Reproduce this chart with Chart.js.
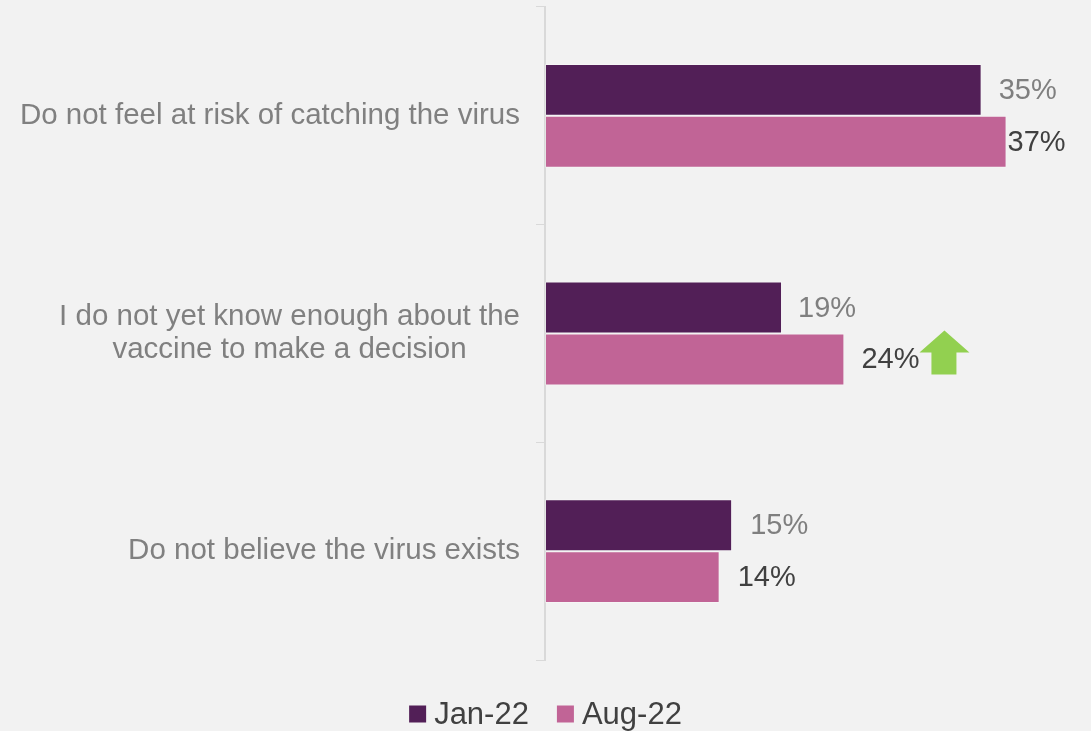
<!DOCTYPE html>
<html>
<head>
<meta charset="utf-8">
<script src="https://cdn.jsdelivr.net/npm/chart.js@4.4.1/dist/chart.umd.min.js"></script>
<style>
  html, body { margin: 0; padding: 0; background: #f2f2f2; }
  #wrap { width: 1091px; height: 731px; position: relative; }
</style>
</head>
<body>
<div id="wrap"><canvas id="chart" width="1091" height="731"></canvas></div>
<script>
const categories = [
  ["Do not feel at risk of catching the virus"],
  ["I do not yet know enough about the", "vaccine to make a decision"],
  ["Do not believe the virus exists"]
];
const seriesNames = ["Jan-22", "Aug-22"];
const jan22 = [35, 19, 15];
const aug22 = [37, 24, 14];
const augChange = [null, "up", null];

const FONT = "'Liberation Sans', Arial, sans-serif";
const colors = ["#521f57", "#c16496"];
const labelColors = ["#7f7f7f", "#404040"];

// draws category labels, value labels, the change arrow and the legend
const decorations = {
  id: "decorations",
  afterDatasetsDraw(chart, args, opts){
    const ctx = chart.ctx;
    const yScale = chart.scales.y;
    ctx.save();

    // category labels: block right-aligned to the axis, lines centred inside the block
    ctx.font = "29.5px " + FONT;
    ctx.fillStyle = "#808080";
    ctx.textBaseline = "middle";
    ctx.textAlign = "center";
    const right = chart.chartArea.left - 25;
    categories.forEach((lines, i)=>{
      const yc = yScale.getPixelForTick(i);
      const w = Math.max(...lines.map((l)=>ctx.measureText(l).width));
      const lh = 33;
      const y0 = yc - (lines.length - 1) * lh / 2;
      lines.forEach((l, j)=>{
        ctx.fillText(l, right - w / 2, y0 + j * lh);
      });
    });

    // value labels
    ctx.font = "29px " + FONT;
    ctx.textAlign = "left";
    chart.data.datasets.forEach((ds, di)=>{
      const meta = chart.getDatasetMeta(di);
      meta.data.forEach((bar, i)=>{
        const text = ds.data[i] + "%";
        const x = bar.x + opts.offsets[di][i];
        ctx.fillStyle = labelColors[di];
        ctx.fillText(text, x, bar.y + 1);
        if(ds.change && ds.change[i] === "up"){
          const ax = x + ctx.measureText(text).width;
          const top = bar.y - 29;
          ctx.fillStyle = "#92d050";
          ctx.beginPath();
          ctx.moveTo(ax + 25, top);
          ctx.lineTo(ax + 50, top + 22);
          ctx.lineTo(ax + 37, top + 22);
          ctx.lineTo(ax + 37, top + 44);
          ctx.lineTo(ax + 12, top + 44);
          ctx.lineTo(ax + 12, top + 22);
          ctx.lineTo(ax, top + 22);
          ctx.closePath();
          ctx.fill();
        }
      });
    });

    // legend
    ctx.font = "31px " + FONT;
    const box = 17, gap = 8, spacing = 28;
    const widths = chart.data.datasets.map((ds)=>box + gap + ctx.measureText(ds.label).width);
    const total = widths.reduce((a, b)=>a + b, 0) + spacing * (widths.length - 1);
    let lx = (chart.width - total) / 2;
    const ly = 714;
    chart.data.datasets.forEach((ds, di)=>{
      ctx.fillStyle = ds.backgroundColor;
      ctx.fillRect(lx, ly - box / 2, box, box);
      ctx.fillStyle = "#404040";
      ctx.fillText(ds.label, lx + box + gap, ly + 1);
      lx += widths[di] + spacing;
    });

    ctx.restore();
  }
};

new Chart(document.getElementById("chart"), {
  type: "bar",
  data: {
    labels: categories,
    datasets: [
      {label: seriesNames[0], data: jan22, backgroundColor: colors[0]},
      {label: seriesNames[1], data: aug22, backgroundColor: colors[1], change: augChange}
    ]
  },
  options: {
    indexAxis: "y",
    responsive: false,
    animation: false,
    layout: {padding: {top: 7, right: 47, bottom: 71, left: 0}},
    datasets: {
      bar: {
        categoryPercentage: 0.477,
        barPercentage: 1,
        borderWidth: 1,
        borderColor: "rgba(255,255,255,0.3)",
        borderSkipped: false
      }
    },
    scales: {
      x: {display: false, min: 0, max: 40},
      y: {
        afterFit(scale){ scale.width = 545; },
        ticks: {display: false},
        grid: {drawOnChartArea: false, drawTicks: true, tickLength: 9, color: "#d9d9d9", offset: true},
        border: {display: true, color: "#d9d9d9", width: 2}
      }
    },
    plugins: {
      legend: {display: false},
      tooltip: {enabled: false},
      decorations: {offsets: [[17, 16, 18], [1, 17, 18]]}
    }
  },
  plugins: [decorations]
});
</script>
</body>
</html>
